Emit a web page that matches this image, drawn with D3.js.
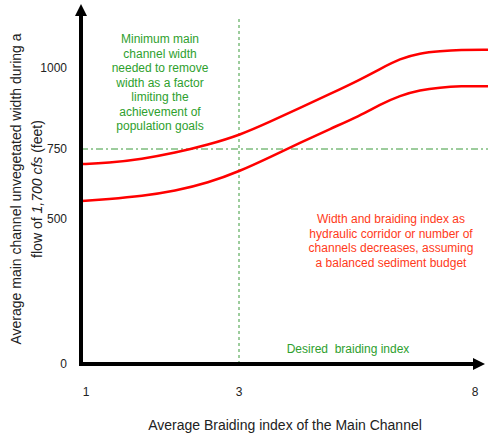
<!DOCTYPE html>
<html><head><meta charset="utf-8">
<script src="https://cdn.jsdelivr.net/npm/d3@7"></script>
<style>body{margin:0;background:#fff}svg{display:block;font-family:"Liberation Sans",Arial,sans-serif}</style>
</head><body>
<svg id="c" width="488" height="439"></svg>
<script>
// Data
const braidIndex = [0.935,1.288,1.732,2.163,2.595,3.021,3.657,4.292,4.928,5.564,5.987,6.411,6.835,7.258,7.682,8.275];
const upperWidth = [696,700,714,736,763,793,834,877,920,964,997,1029,1046,1052,1056,1056];
const lowerWidth = [564,571,582,600,629,671,721,769,812,853,887,915,932,940,944,944];
const xTicks = [1,3,8];
const yTicks = [0,500,750,1000];
const desiredIndex = 3;
const minWidth = 750;
const greenNote = ["Minimum main","channel width","needed to remove","width as a factor","limiting the","achievement of","population goals"];
const redNote = ["Width and braiding index as","hydraulic corridor or number of","channels decreases, assuming","a balanced sediment budget"];

const svg = d3.select("#c");
const x = d3.scaleLinear().domain([1,3,8]).range([86,239,475]);
const y = d3.scaleLinear().domain([0,500,750,1000]).range([364,219,149,68]);
const x0 = 81, y0 = 364;
const green = "#2ea02e", red = "#ff0000";

// reference lines
svg.append("line").attr("x1",x0).attr("x2",488).attr("y1",y(minWidth)).attr("y2",y(minWidth))
  .attr("stroke","#3a9a3a").attr("stroke-width",1).attr("stroke-dasharray","7,3,2,3");
svg.append("line").attr("x1",x(desiredIndex)).attr("x2",x(desiredIndex)).attr("y1",19).attr("y2",y0)
  .attr("stroke","#3a9a3a").attr("stroke-width",1).attr("stroke-dasharray","3,3");

// curves
const line = d3.line().x((d,i)=>x(braidIndex[i])).y(d=>y(d)).curve(d3.curveBasis);
[upperWidth, lowerWidth].forEach(s=>{
  svg.append("path").attr("d",line(s)).attr("fill","none").attr("stroke",red).attr("stroke-width",2.5);
});

// axes
svg.append("line").attr("x1",x0).attr("x2",x0).attr("y1",y0+2).attr("y2",12).attr("stroke","#000").attr("stroke-width",4);
svg.append("path").attr("d",`M${x0},4 L${x0-6},16 L${x0+6},16 Z`).attr("fill","#000");
svg.append("line").attr("x1",x0-2).attr("x2",476).attr("y1",y0).attr("y2",y0).attr("stroke","#000").attr("stroke-width",4);
svg.append("path").attr("d",`M485,${y0} L473,${y0-6} L473,${y0+6} Z`).attr("fill","#000");

// tick labels
svg.selectAll(".yt").data(yTicks).enter().append("text")
  .attr("x",67).attr("y",d=>y(d)).attr("dy","0.35em").attr("text-anchor","end")
  .attr("font-size",12).attr("fill","#222").text(d=>d);
svg.selectAll(".xt").data(xTicks).enter().append("text")
  .attr("x",d=>x(d)).attr("y",392).attr("dy","0.35em").attr("text-anchor","middle")
  .attr("font-size",12).attr("fill","#222").text(d=>d);

// axis titles
svg.append("text").attr("x",285).attr("y",425).attr("dy","0.35em").attr("text-anchor","middle")
  .attr("font-size",14).attr("fill","#222").text("Average Braiding index of the Main Channel");
const yt = svg.append("g").attr("transform","translate(0,189) rotate(-90)");
yt.append("text").attr("x",0).attr("y",16).attr("dy","0.35em").attr("text-anchor","middle")
  .attr("font-size",14).attr("fill","#222").text("Average main channel unvegetated width during a");
const t2 = yt.append("text").attr("x",0).attr("y",37).attr("dy","0.35em").attr("text-anchor","middle")
  .attr("font-size",14).attr("fill","#222");
t2.append("tspan").text("flow of ");
t2.append("tspan").attr("font-style","italic").text("1,700 cfs");
t2.append("tspan").text(" (feet)");

// annotations
svg.selectAll(".gn").data(greenNote).enter().append("text")
  .attr("x",160).attr("y",(d,i)=>39+i*14.5).attr("dy","0.35em").attr("text-anchor","middle")
  .attr("font-size",12).attr("fill",green).text(d=>d);
svg.selectAll(".rn").data(redNote).enter().append("text")
  .attr("x",391).attr("y",(d,i)=>219+i*14.5).attr("dy","0.35em").attr("text-anchor","middle")
  .attr("font-size",12).attr("fill","#ff3a1a").text(d=>d);
svg.append("text").attr("x",348).attr("y",349).attr("dy","0.35em").attr("text-anchor","middle")
  .attr("font-size",12).attr("fill",green).attr("xml:space","preserve").text("Desired  braiding index");
</script>
</body></html>
